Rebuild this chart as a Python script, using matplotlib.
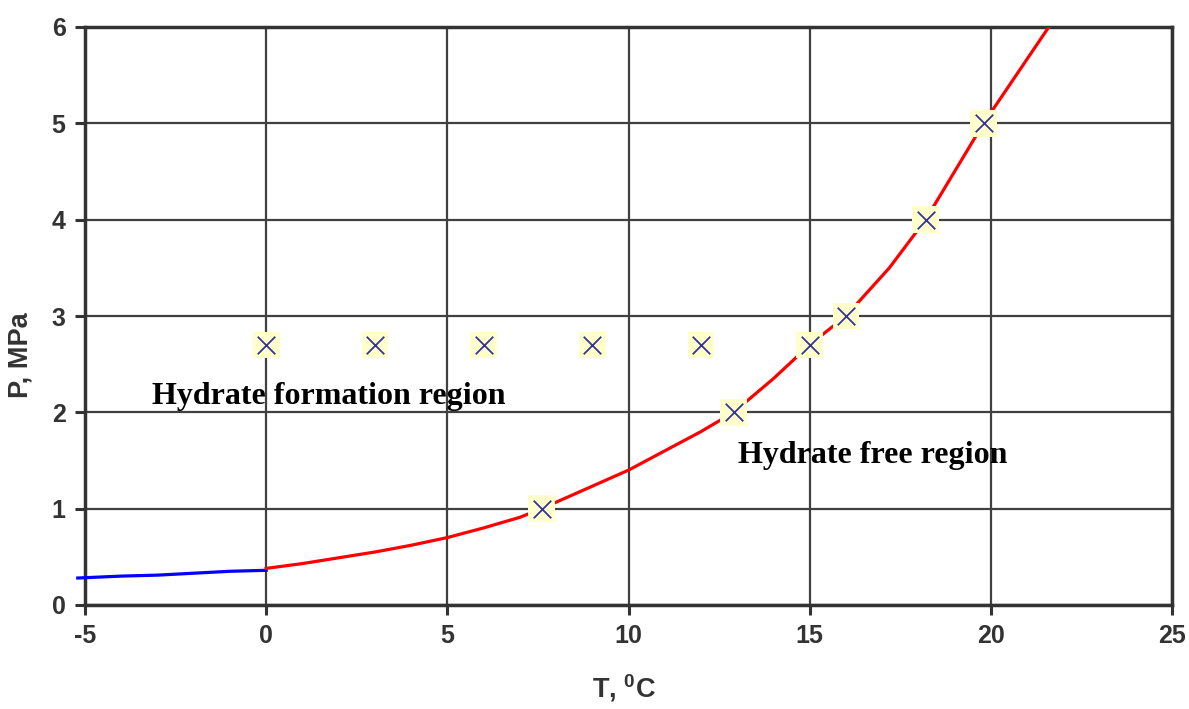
import matplotlib
matplotlib.use("Agg")
import matplotlib.pyplot as plt
import numpy as np

# Data
ice_T = [-5.2, -4.0, -3.0, -2.0, -1.0, 0.0]
ice_P = [0.28, 0.30, 0.31, 0.33, 0.35, 0.36]
hyd_T = [0.0, 1.0, 2.0, 3.0, 4.0, 5.0, 6.0, 7.0, 7.6, 8.5, 10.0, 11.0, 12.0, 12.9, 14.0, 15.0, 16.0, 17.2, 18.2, 19.0, 19.8, 20.7, 21.6]
hyd_P = [0.38, 0.43, 0.49, 0.55, 0.62, 0.70, 0.80, 0.91, 1.00, 1.15, 1.40, 1.60, 1.80, 2.00, 2.35, 2.70, 3.00, 3.50, 4.00, 4.50, 5.00, 5.50, 6.00]
pts_T = [0, 3, 6, 9, 12, 15, 7.6, 12.9, 16.0, 18.2, 19.8]
pts_P = [2.7, 2.7, 2.7, 2.7, 2.7, 2.7, 1.0, 2.0, 3.0, 4.0, 5.0]
xticks = [-5, 0, 5, 10, 15, 20, 25]
yticks = [0, 1, 2, 3, 4, 5, 6]

plt.rcParams['mathtext.fontset'] = 'custom'
plt.rcParams['mathtext.bf'] = 'Liberation Sans:bold'
plt.rcParams['mathtext.rm'] = 'Liberation Sans:bold'
plt.rcParams['axes.unicode_minus'] = False

fig = plt.figure(figsize=(11.89, 7.09), dpi=100)
ax = fig.add_axes([85/1189, 1 - 605/709, (1172-85)/1189, (605-27)/709])

ax.set_xlim(-5, 25)
ax.set_ylim(0, 6)
ax.set_xticks(xticks)
ax.set_yticks(yticks)
ax.grid(True, color='#404040', lw=1.6)
ax.set_axisbelow(True)
for s in ax.spines.values():
    s.set_color('#333333')
    s.set_linewidth(2.5)
ax.tick_params(axis='both', length=7, width=2.2, color='#333333', labelcolor='#333333',
               labelsize=18, pad=7)
for lab in ax.get_xticklabels() + ax.get_yticklabels():
    lab.set_fontfamily('Liberation Sans')
    lab.set_fontweight('bold')

ax.plot(ice_T, ice_P, color='#0000ff', lw=2.3, zorder=3, clip_on=False)
ax.plot(hyd_T, hyd_P, color='#ff0000', lw=2.3, zorder=3)

ax.scatter(pts_T, pts_P, marker='s', s=370, facecolor='#ffffcc', edgecolor='none', zorder=4)
ax.scatter(pts_T, pts_P, marker='x', s=160, color='#333399', linewidths=1.3, zorder=5)

ax.text(-3.15, 2.16, 'Hydrate formation region', family='Liberation Serif', fontweight='bold',
        fontsize=23, color='black', va='center', ha='left', zorder=6)
ax.text(13.03, 1.55, 'Hydrate free region', family='Liberation Serif', fontweight='bold',
        fontsize=23, color='black', va='center', ha='left', zorder=6)

ax.set_xlabel(r'T, $^{\mathbf{0}}$C', family='Liberation Sans', fontweight='bold',
              fontsize=19.5, color='#333333')
ax.set_ylabel('P, MPa', family='Liberation Sans', fontweight='bold',
              fontsize=19.5, color='#333333')
ax.xaxis.set_label_coords((624 - 85) / 1087, -(672 - 605) / 578)
ax.yaxis.set_label_coords(-(85 - 34) / 1087, (605 - 355) / 578)

fig.savefig('out.png', dpi=100)
